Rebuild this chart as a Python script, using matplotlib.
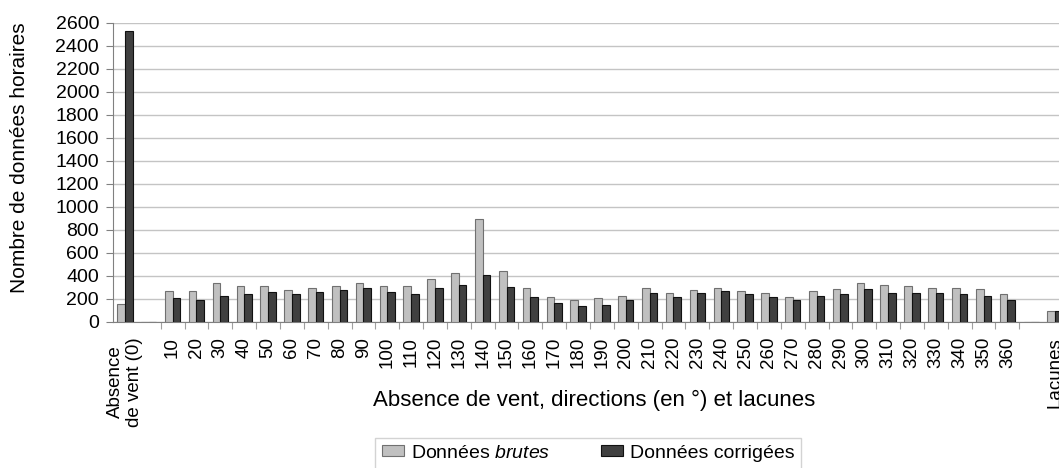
import matplotlib

matplotlib.use("Agg")
import matplotlib.pyplot as plt
import numpy as np

plt.rcParams["font.family"] = ["Liberation Sans", "DejaVu Sans"]
plt.rcParams["mathtext.fontset"] = "custom"
plt.rcParams["mathtext.rm"] = "Liberation Sans"
plt.rcParams["mathtext.it"] = "Liberation Sans:italic"

# categories: calm, gap, 10..360 degrees, gap, missing data
directions = [str(d) for d in range(10, 361, 10)]
categories = ["Absence\nde vent (0)", ""] + directions + ["", "Lacunes"]

brutes = [151, 0,
          264, 264, 334, 308, 308, 278, 293, 308, 334, 308, 308, 371,
          426, 890, 441, 290, 215, 186, 203, 226, 290, 252, 278, 290,
          264, 252, 215, 264, 281, 334, 319, 308, 290, 290, 281, 241,
          0, 90]
corrigees = [2530, 0,
             203, 189, 226, 241, 255, 241, 255, 278, 293, 255, 241, 293,
             319, 409, 304, 217, 160, 134, 148, 186, 252, 215, 252, 267,
             241, 215, 186, 226, 241, 281, 252, 252, 252, 241, 226, 186,
             0, 90]

GREY = "#c0c0c0"
DARK = "#404040"
BAR_W = 0.32

fig = plt.figure(figsize=(10.59, 4.68), dpi=100)
ax = fig.add_axes([113 / 1059, 1 - 321.7 / 468, (1067 - 113) / 1059, (321.7 - 22.7) / 468])

x = np.arange(len(categories)) + 0.5
ax.bar(x - BAR_W / 2, brutes, width=BAR_W, color=GREY, edgecolor="#707070", lw=0.8,
       label="Données $\\it{brutes}$", zorder=3)
ax.bar(x + BAR_W / 2, corrigees, width=BAR_W, color=DARK, edgecolor="#111111", lw=0.8,
       label="Données corrigées", zorder=3)

ax.set_xlim(0, len(categories))
ax.set_ylim(0, 2600)
ax.set_yticks(np.arange(0, 2601, 200))
ax.yaxis.grid(True, color="#c4c4c4", lw=1.0, zorder=0)
ax.set_axisbelow(True)

ax.set_xticks(x)
ax.set_xticklabels(categories, rotation=90, va="top", ha="center", multialignment="center")
ax.set_xticks(np.arange(2, 39), minor=True)
ax.tick_params(axis="x", which="major", length=0, pad=11, labelsize=13.5)
ax.tick_params(axis="x", which="minor", length=5, color="#a0a0a0", width=0.8)
ax.tick_params(axis="y", length=5, pad=5, color="#808080", labelsize=14)

for side in ("top", "right"):
    ax.spines[side].set_visible(False)
for side in ("left", "bottom"):
    ax.spines[side].set_color("#808080")

fig.text(20 / 1059, 1 - 158 / 468, "Nombre de données horaires", rotation=90,
         ha="center", va="center", fontsize=15)
fig.text(594 / 1059, 1 - 400 / 468, "Absence de vent, directions (en °) et lacunes",
         ha="center", va="center", fontsize=16)

fig.legend(loc="upper center", bbox_to_anchor=(588 / 1059, 1 - 438 / 468), ncol=2,
           fontsize=14, frameon=True, fancybox=False, edgecolor="#c8c8c8",
           handlelength=1.13, handleheight=0.5, handletextpad=0.36,
           columnspacing=2.6, borderpad=0.35, borderaxespad=0)

fig.savefig("out.png", dpi=100)
